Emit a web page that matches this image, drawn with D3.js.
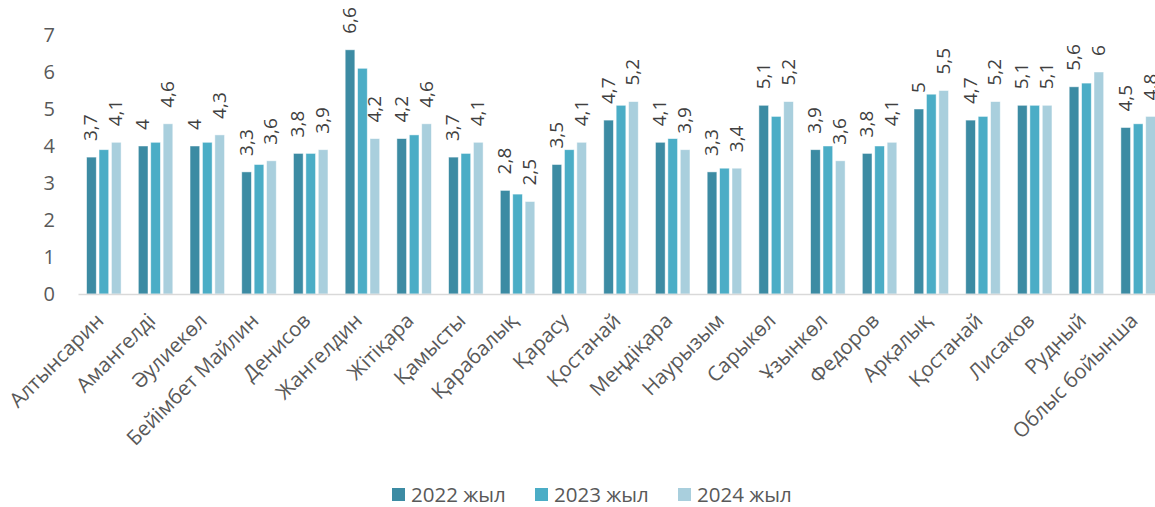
<!DOCTYPE html>
<html>
<head>
<meta charset="utf-8">
<script src="https://cdn.jsdelivr.net/npm/d3@7"></script>
<style>
  html, body { margin: 0; padding: 0; background: #fff; }
  svg { display: block; font-family: "Open Sans", "Noto Sans", sans-serif; }
</style>
</head>
<body>
<svg id="chart" width="1155" height="507"></svg>
<script>
const categories = ["Алтынсарин", "Амангелді", "Әулиекөл", "Бейімбет Майлин", "Денисов", "Жангелдин", "Жітіқара", "Қамысты", "Қарабалық", "Қарасу", "Қостанай", "Меңдіқара", "Наурызым", "Сарыкөл", "Ұзынкөл", "Федоров", "Арқалық", "Қостанай", "Лисаков", "Рудный", "Облыс бойынша"];
const seriesNames = ["2022 жыл", "2023 жыл", "2024 жыл"];
const values2022 = [3.7, 4, 4, 3.3, 3.8, 6.6, 4.2, 3.7, 2.8, 3.5, 4.7, 4.1, 3.3, 5.1, 3.9, 3.8, 5, 4.7, 5.1, 5.6, 4.5];
const values2023 = [3.9, 4.1, 4.1, 3.5, 3.8, 6.1, 4.3, 3.8, 2.7, 3.9, 5.1, 4.2, 3.4, 4.8, 4.0, 4.0, 5.4, 4.8, 5.1, 5.7, 4.6];
const values2024 = [4.1, 4.6, 4.3, 3.6, 3.9, 4.2, 4.6, 4.1, 2.5, 4.1, 5.2, 3.9, 3.4, 5.2, 3.6, 4.1, 5.5, 5.2, 5.1, 6, 4.8];
const yTicks = [0, 1, 2, 3, 4, 5, 6, 7];
const colors = ["#3C8BA3", "#4BADC6", "#A9CFDD"];
const labelledSeries = [true, false, true];

const series = [values2022, values2023, values2024];
const svg = d3.select("#chart");

const x0 = d3.scaleBand().domain(d3.range(categories.length)).range([78, 1164]).paddingInner(0).paddingOuter(0);
const x1 = d3.scaleBand().domain([0, 1, 2]).range([0, 34.5]).paddingInner(0.22).paddingOuter(0);
const groupOffset = (x0.bandwidth() - 34.5) / 2;
const y = d3.scaleLinear().domain([0, 7]).range([294, 35]);

// Y axis labels
const yAxis = d3.axisLeft(y).tickValues(yTicks).tickSize(0).tickPadding(0).tickFormat(d3.format("d"));
const gy = svg.append("g").attr("transform", "translate(55,0)").call(yAxis);
gy.select(".domain").remove();
gy.selectAll("text").attr("font-size", 20).attr("fill", "#595959").attr("font-family", "Open Sans, sans-serif");

// Bars
const groups = svg.append("g").selectAll("g").data(categories).join("g")
  .attr("transform", (d, i) => `translate(${x0(i) + groupOffset},0)`);

groups.selectAll("rect").data((d, i) => series.map((s, k) => ({ k, v: s[i] }))).join("rect")
  .attr("x", d => x1(d.k))
  .attr("width", x1.bandwidth())
  .attr("y", d => y(d.v))
  .attr("height", d => y(0) - y(d.v))
  .attr("fill", d => colors[d.k])
  .attr("stroke", "#ffffff")
  .attr("stroke-opacity", 0.6)
  .attr("stroke-width", 0.8);

// Data labels
groups.selectAll("text.lbl").data((d, i) => series.map((s, k) => ({ k, v: s[i] })).filter(d => labelledSeries[d.k])).join("text")
  .attr("class", "lbl")
  .attr("transform", d => `translate(${x1(d.k) + x1.bandwidth() / 2 + 6},${y(d.v) - 16}) rotate(-90)`)
  .attr("text-anchor", "start")
  .attr("font-size", 19)
  .attr("fill", "#404040")
  .text(d => String(d.v).replace(".", ","));

// X axis line and category labels
const xAxis = d3.axisBottom(x0).tickSize(0).tickFormat(i => categories[i]);
const gx = svg.append("g").attr("transform", "translate(0,294)").call(xAxis);
gx.select(".domain").attr("stroke", "#D9D9D9").attr("stroke-width", 1.5);
gx.selectAll("text")
  .attr("font-size", 20.5)
  .attr("fill", "#595959")
  .attr("font-family", "Open Sans, sans-serif")
  .attr("text-anchor", "end")
  .attr("dy", 0)
  .attr("transform", "translate(1,28) rotate(-45)")
  .attr("y", 0);

// Legend
const legendX = [392, 535, 678];
const legend = svg.append("g").selectAll("g").data(seriesNames).join("g")
  .attr("transform", (d, i) => `translate(${legendX[i]},488)`);
legend.append("rect").attr("width", 13).attr("height", 13).attr("fill", (d, i) => colors[i]);
legend.append("text").attr("x", 19).attr("y", 13.5).attr("font-size", 20.5).attr("fill", "#595959").text(d => d);
</script>
</body>
</html>
